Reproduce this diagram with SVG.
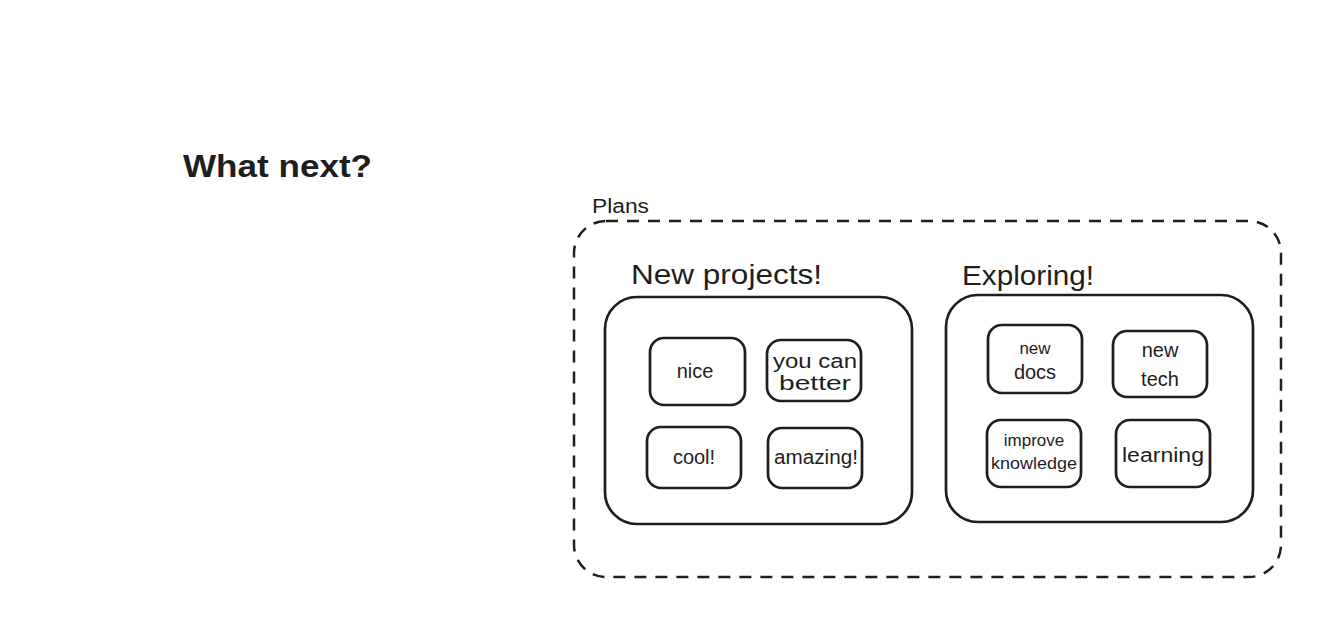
<svg xmlns="http://www.w3.org/2000/svg" width="1330" height="631" viewBox="0 0 1330 631">
<style>
.box{fill:none;stroke:#1e1e1e;stroke-width:2.7;stroke-linejoin:round}
.frame{fill:none;stroke:#1e1e1e;stroke-width:2.5;stroke-dasharray:12 9}
text{font-family:"Liberation Sans","DejaVu Sans",sans-serif;fill:#1e1e1e}
.t{font-size:20px;text-anchor:middle}
.s{font-size:17px;text-anchor:middle}
</style>
<rect width="1330" height="631" fill="#ffffff"/>
<g id="title"><text x="183" y="177" font-size="32" font-weight="bold" textLength="189" lengthAdjust="spacingAndGlyphs">What next?</text></g>
<g id="plans">
<rect class="frame" x="574" y="221" width="707" height="356" rx="32"/>
<text x="592" y="213" font-size="20" textLength="57" lengthAdjust="spacingAndGlyphs">Plans</text>
</g>
<g id="new-projects">
<rect class="box" x="605" y="297" width="307" height="227" rx="32"/>
<text x="631" y="284" font-size="28" textLength="191" lengthAdjust="spacingAndGlyphs">New projects!</text>
</g>
<g id="exploring">
<rect class="box" x="946" y="295" width="307" height="227" rx="32"/>
<text x="962" y="285" font-size="28" textLength="132" lengthAdjust="spacingAndGlyphs">Exploring!</text>
</g>
<g id="nice"><rect class="box" x="650" y="338" width="95" height="67" rx="14"/><text class="t" x="695" y="378">nice</text></g>
<g id="you-can-better"><rect class="box" x="767" y="340" width="94" height="61" rx="14"/><text class="t" x="815" y="368" textLength="84" lengthAdjust="spacingAndGlyphs">you can</text><text class="t" x="815" y="390" textLength="72" lengthAdjust="spacingAndGlyphs">better</text></g>
<g id="cool"><rect class="box" x="647" y="427" width="94" height="61" rx="14"/><text class="t" x="694" y="464">cool!</text></g>
<g id="amazing"><rect class="box" x="768" y="428" width="94" height="60" rx="14"/><text class="t" x="816" y="464" textLength="84" lengthAdjust="spacingAndGlyphs">amazing!</text></g>
<g id="new-docs"><rect class="box" x="988" y="325" width="94" height="68" rx="14"/><text class="s" x="1035" y="354">new</text><text class="t" x="1035" y="379">docs</text></g>
<g id="new-tech"><rect class="box" x="1113" y="331" width="94" height="66" rx="14"/><text class="t" x="1160" y="357">new</text><text class="t" x="1160" y="386">tech</text></g>
<g id="improve-knowledge"><rect class="box" x="987" y="420" width="94" height="67" rx="14"/><text class="s" x="1034" y="446">improve</text><text class="s" x="1034" y="469" textLength="86" lengthAdjust="spacingAndGlyphs">knowledge</text></g>
<g id="learning"><rect class="box" x="1116" y="420" width="94" height="67" rx="14"/><text class="t" x="1163" y="462" textLength="82" lengthAdjust="spacingAndGlyphs">learning</text></g>
<g id="connectors"/>
</svg>
